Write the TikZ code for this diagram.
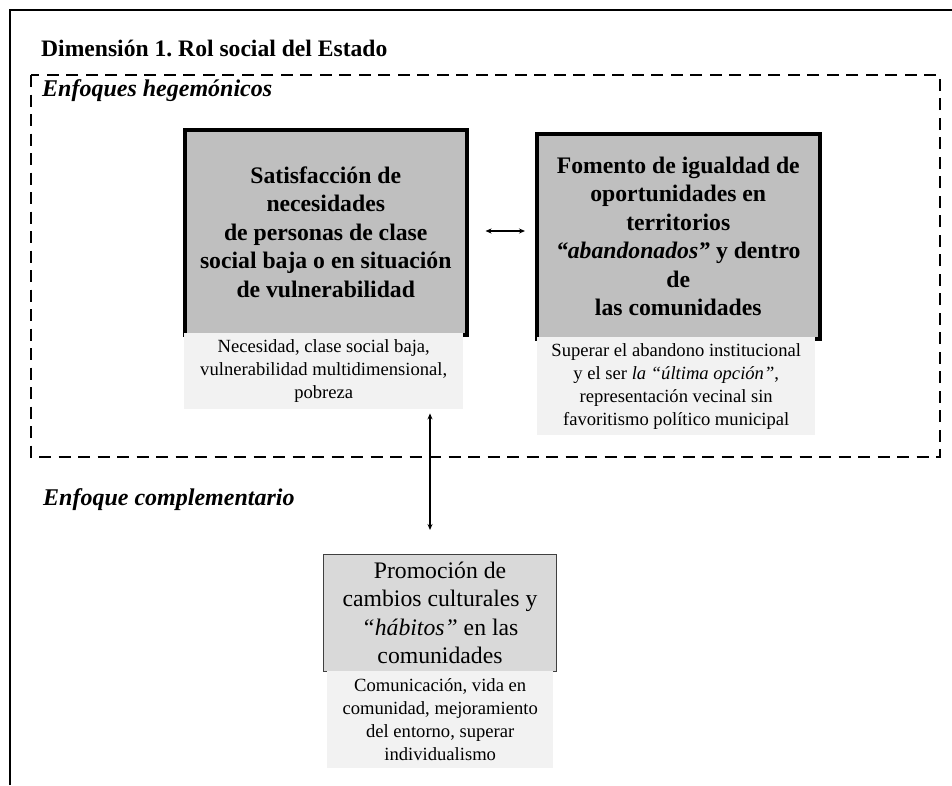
\documentclass[tikz,border=0pt]{standalone}
\usepackage{fontspec}
\setmainfont{Liberation Serif}
\usetikzlibrary{arrows.meta}
\frenchspacing
\definecolor{maingray}{HTML}{BFBFBF}
\definecolor{subgray}{HTML}{F2F2F2}
\definecolor{promogray}{HTML}{D9D9D9}
\definecolor{promoedge}{HTML}{404040}
\tikzset{
  mainbox/.style={draw=black, line width=3.5pt, fill=maingray, anchor=north west,
    inner sep=0pt, align=center, font=\fontsize{23.7}{28.5}\selectfont\bfseries},
  subbox/.style={fill=subgray, anchor=north west, inner sep=0pt, align=center,
    font=\fontsize{18.6}{23}\selectfont},
  promobox/.style={draw=promoedge, line width=1pt, fill=promogray, anchor=north west,
    inner sep=0pt, align=center, font=\fontsize{23.7}{28.5}\selectfont},
  heading/.style={anchor=base west, inner sep=0pt, font=\fontsize{23.6}{28}\selectfont\bfseries},
  approach/.style={anchor=base west, inner sep=0pt, font=\fontsize{24}{28}\selectfont\bfseries\itshape},
  frameline/.style={line width=2pt, black},
  dashframe/.style={line width=2.2pt, black, dash pattern=on 12pt off 7.5pt},
  link/.style={line width=1.1pt, {Stealth[length=6pt,width=5pt]}-{Stealth[length=6pt,width=5pt]}}
}
\begin{document}
\begin{tikzpicture}[x=1pt,y=-1pt]
\useasboundingbox (0,0) rectangle (952,785);
% outer frame (top and left sides)
\draw[frameline] (10,785) -- (10,10) -- (952,10);
% dashed frame
\draw[dashframe] (31,75) rectangle (940,457);
% headings
\node[heading] (title) at (41,56) {Dimensión 1. Rol social del Estado};
\node[approach] (heg) at (42,96) {Enfoques hegemónicos};
\node[approach] (comp) at (43,505) {Enfoque complementario};
% boxes
\node[mainbox, minimum width=282pt, minimum height=205pt] (b1) at (183,128)
  {Satisfacción de\\necesidades\\de personas de clase\\social baja o en situación\\de vulnerabilidad};
\node[subbox, minimum width=279pt, minimum height=76pt] (s1) at (184,333)
  {Necesidad, clase social baja,\\vulnerabilidad multidimensional,\\pobreza};
\node[mainbox, minimum width=283pt, minimum height=205pt] (b2) at (535,132)
  {Fomento de igualdad de\\oportunidades en\\territorios\\\textit{“abandonados”} y dentro\\de\\las comunidades};
\node[subbox, minimum width=278pt, minimum height=98pt] (s2) at (537,337)
  {Superar el abandono institucional\\y el ser \textit{la “última opción”},\\representación vecinal sin\\favoritismo político municipal};
\node[promobox, minimum width=233pt, minimum height=117pt] (b3) at (323,554)
  {Promoción de\\cambios culturales y\\\textit{“hábitos”} en las\\comunidades};
\node[subbox, minimum width=226pt, minimum height=97pt] (s3) at (327,671)
  {Comunicación, vida en\\comunidad, mejoramiento\\del entorno, superar\\individualismo};
% connectors
\coordinate (hy) at (0,231);
\coordinate (vx) at (430,0);
\draw[link, shorten <=17pt, shorten >=10pt] (b1.east |- hy) -- (b2.west |- hy);
\draw[link, shorten <=4pt, shorten >=24pt] (s1.south -| vx) -- (b3.north -| vx);
\end{tikzpicture}
\end{document}
